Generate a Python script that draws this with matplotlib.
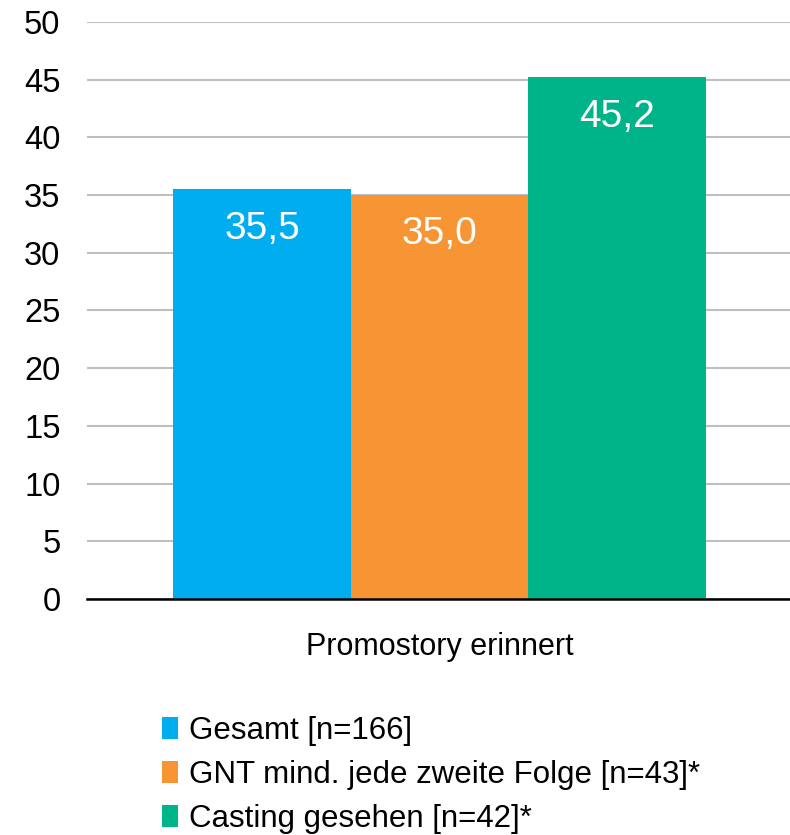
import matplotlib
matplotlib.use("Agg")
import matplotlib.pyplot as plt
from matplotlib.patches import Patch

plt.rcParams['font.family'] = ['Liberation Sans', 'DejaVu Sans']

# data
category = "Promostory erinnert"
series = ["Gesamt [n=166]", "GNT mind. jede zweite Folge [n=43]*", "Casting gesehen [n=42]*"]
values = [35.5, 35.0, 45.2]
labels = ["35,5", "35,0", "45,2"]
colors = ["#00ADEF", "#F79433", "#00B48A"]
yticks = [0, 5, 10, 15, 20, 25, 30, 35, 40, 45, 50]

fig = plt.figure(figsize=(7.9, 8.35), dpi=100)
ax = fig.add_axes([0.110, 0.2826, 0.893, 0.6911])

w = 0.2515
pos = [-w, 0, w]
for p, v, c, lab in zip(pos, values, colors, labels):
    ax.bar(p, v, width=w, color=c, zorder=2)
    ax.text(p, v - 3.4, lab, ha="center", va="center", color="white", fontsize=28, zorder=3)

ax.set_xlim(-0.5, 0.5)
ax.set_ylim(0, 50)
ax.set_yticks(yticks)
ax.set_yticklabels([str(t) for t in yticks], fontsize=23.5)
ax.tick_params(axis="y", length=0, pad=19)
ax.set_xticks([0])
ax.set_xticklabels([category], fontsize=22)
ax.tick_params(axis="x", length=0, pad=24)
ax.grid(axis="y", color="#BFBFBF", linewidth=1.5, zorder=0)
for s in ["top", "right", "left"]:
    ax.spines[s].set_visible(False)
ax.spines["bottom"].set_linewidth(1.8)
ax.spines["bottom"].set_zorder(4)

handles = [Patch(facecolor=c, edgecolor="none") for c in colors]
fig.legend(handles, series, loc="upper left", bbox_to_anchor=(0.205, 0.143),
           frameon=False, fontsize=22.5, handlelength=0.5, handleheight=0.7,
           handletextpad=0.35, labelspacing=0.46, borderpad=0, borderaxespad=0)

fig.savefig("out.png", dpi=100)
